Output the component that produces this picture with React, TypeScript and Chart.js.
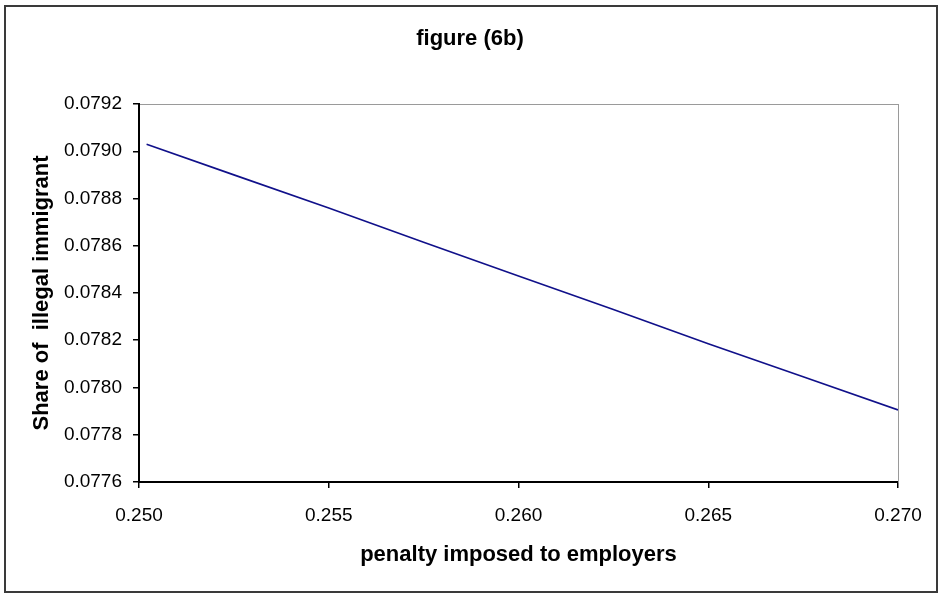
import React, { useEffect, useRef } from "react";
import { Chart, registerables } from "chart.js";

Chart.register(...registerables);

const chartTitle = "figure (6b)";
const xAxisTitle = "penalty imposed to employers";
const yAxisTitle = "Share of  illegal immigrant";

const penalty = [0.2502, 0.2525, 0.255, 0.2575, 0.26, 0.2625, 0.265, 0.2675, 0.27];
const share = [0.07903, 0.0789, 0.07876, 0.078615, 0.078472, 0.07833, 0.078185, 0.078045, 0.077905];

const xMin = 0.25;
const xMax = 0.27;
const xStep = 0.005;
const yMin = 0.0776;
const yMax = 0.0792;
const yStep = 0.0002;

const FONT = "'Liberation Sans', Arial, sans-serif";

const frame = {
  id: "frame",
  beforeDraw(chart: any) {
    const ctx = chart.ctx;
    ctx.save();
    ctx.fillStyle = "#ffffff";
    ctx.fillRect(0, 0, chart.width, chart.height);
    ctx.strokeStyle = "#3a3a3a";
    ctx.lineWidth = 2;
    ctx.strokeRect(5, 6, 932, 586);
    ctx.restore();
  },
};

export default function App() {
  const ref = useRef<HTMLCanvasElement>(null);
  useEffect(() => {
    if (!ref.current) return;
    const chart = new Chart(ref.current, {
      type: "scatter",
      data: {
        datasets: [
          {
            data: penalty.map((x, i) => ({ x, y: share[i] })),
            showLine: true,
            borderColor: "#10108a",
            borderWidth: 1.6,
            pointRadius: 0,
            xAxisID: "x",
            yAxisID: "y",
          },
        ],
      },
      options: {
        responsive: false,
        animation: false,
        devicePixelRatio: 1,
        layout: { padding: { left: 0, right: 3, top: 0, bottom: 0 } },
        plugins: {
          legend: { display: false },
          tooltip: { enabled: false },
          title: {
            display: true,
            text: chartTitle,
            color: "#000",
            font: { family: FONT, size: 22, weight: "bold" },
            padding: { top: 26, bottom: 51.6 },
          },
        },
        scales: {
          x: {
            type: "linear",
            position: "bottom",
            min: xMin,
            max: xMax,
            ticks: {
              stepSize: xStep,
              color: "#000",
              font: { family: FONT, size: 19 },
              padding: 16,
              maxRotation: 0,
              callback: (v: any) => Number(v).toFixed(3),
            },
            grid: { drawOnChartArea: false, drawTicks: true, tickLength: 6, color: "#000", lineWidth: 1.5 },
            border: { display: true, color: "#000", width: 2 },
            title: {
              display: true,
              text: xAxisTitle,
              color: "#000",
              font: { family: FONT, size: 22, weight: "bold" },
              padding: { top: 0, bottom: 32 },
            },
            afterFit: (s: any) => {
              s.height = 118;
            },
          },
          xT: {
            type: "linear",
            position: "top",
            min: xMin,
            max: xMax,
            ticks: { display: false },
            grid: { drawOnChartArea: false, drawTicks: false },
            border: { display: true, color: "#9a9a9a", width: 1 },
            afterFit: (s: any) => {
              s.height = 0;
            },
          },
          y: {
            type: "linear",
            position: "left",
            min: yMin,
            max: yMax,
            ticks: {
              stepSize: yStep,
              color: "#000",
              font: { family: FONT, size: 19 },
              padding: 11,
              callback: (v: any) => Number(v).toFixed(4),
            },
            grid: { drawOnChartArea: false, drawTicks: true, tickLength: 6, color: "#000", lineWidth: 1.5 },
            border: { display: true, color: "#000", width: 2 },
            title: {
              display: true,
              text: yAxisTitle,
              color: "#000",
              font: { family: FONT, size: 22, weight: "bold" },
              padding: { top: 29, bottom: 0 },
            },
            afterFit: (s: any) => {
              s.width = 139;
            },
          },
          yR: {
            type: "linear",
            position: "right",
            min: yMin,
            max: yMax,
            ticks: { display: false },
            grid: { drawOnChartArea: false, drawTicks: false },
            border: { display: true, color: "#9a9a9a", width: 1 },
            afterFit: (s: any) => {
              s.width = 42;
            },
          },
        },
      },
      plugins: [frame],
    } as any);
    return () => chart.destroy();
  }, []);
  return (
    <div style={{ position: "fixed", left: 0, top: 0, width: 943, height: 600, background: "#fff" }}>
      <canvas ref={ref} width={943} height={600} style={{ display: "block" }} />
    </div>
  );
}
